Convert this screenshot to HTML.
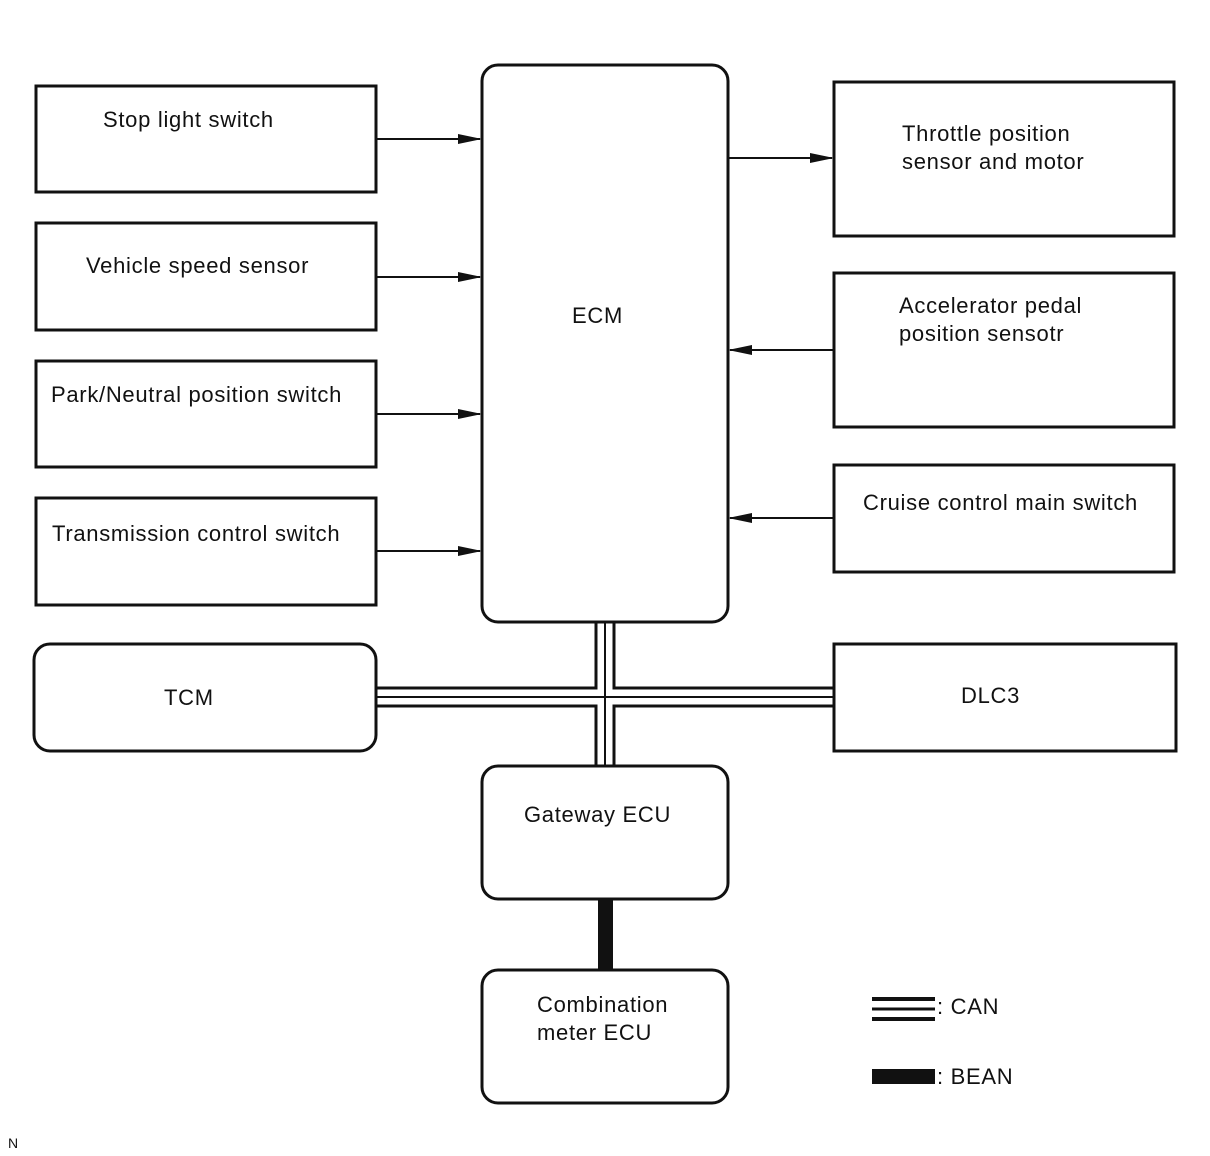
<!DOCTYPE html>
<html><head><style>body{margin:0;background:#fff}svg{display:block}text{font-family:"Liberation Sans",sans-serif;font-size:22px;letter-spacing:0.7px;fill:#111}</style></head><body>
<svg width="1210" height="1156" viewBox="0 0 1210 1156">
<defs><marker id="a" markerWidth="24" markerHeight="12" refX="22" refY="6" orient="auto" markerUnits="userSpaceOnUse"><path d="M0,1 L24,6 L0,11 z" fill="#111"/></marker></defs>
<g fill="#fff" stroke="#111" stroke-width="3">
<rect x="36" y="86" width="340" height="106"/>
<rect x="36" y="223" width="340" height="107"/>
<rect x="36" y="361" width="340" height="106"/>
<rect x="36" y="498" width="340" height="107"/>
<rect x="482" y="65" width="246" height="557" rx="16"/>
<rect x="834" y="82" width="340" height="154"/>
<rect x="834" y="273" width="340" height="154"/>
<rect x="834" y="465" width="340" height="107"/>
<rect x="34" y="644" width="342" height="107" rx="16"/>
<rect x="834" y="644" width="342" height="107"/>
<rect x="482" y="766" width="246" height="133" rx="16"/>
<rect x="482" y="970" width="246" height="133" rx="16"/>
</g>
<g stroke="#111" stroke-width="2" marker-end="url(#a)">
<line x1="376" y1="139" x2="480" y2="139"/>
<line x1="376" y1="277" x2="480" y2="277"/>
<line x1="376" y1="414" x2="480" y2="414"/>
<line x1="376" y1="551" x2="480" y2="551"/>
<line x1="728" y1="158" x2="832" y2="158"/>
<line x1="834" y1="350" x2="730" y2="350"/>
<line x1="834" y1="518" x2="730" y2="518"/>
</g>
<g stroke="#111" stroke-width="3" fill="none">
<path d="M596,622 V688 H376 M614,622 V688 H834 M596,767 V706 H376 M614,767 V706 H834"/>
<line x1="605" y1="622" x2="605" y2="767" stroke-width="2"/>
<line x1="376" y1="697" x2="834" y2="697" stroke-width="2"/>
<rect x="598" y="900" width="15" height="70" fill="#111" stroke="none"/>
<path d="M872,999 H935 M872,1019 H935" stroke-width="4"/>
<line x1="872" y1="1009" x2="935" y2="1009" stroke-width="3"/>
<rect x="872" y="1069" width="63" height="15" fill="#111" stroke="none"/>
</g>
<text x="103" y="127">Stop light switch</text>
<text x="86" y="273">Vehicle speed sensor</text>
<text x="51" y="402">Park/Neutral position switch</text>
<text x="52" y="541">Transmission control switch</text>
<text x="572" y="323">ECM</text>
<text x="902" y="141">Throttle position</text>
<text x="902" y="169">sensor and motor</text>
<text x="899" y="313">Accelerator pedal</text>
<text x="899" y="341">position sensotr</text>
<text x="863" y="510">Cruise control main switch</text>
<text x="164" y="705">TCM</text>
<text x="961" y="703">DLC3</text>
<text x="524" y="822">Gateway ECU</text>
<text x="537" y="1012">Combination</text>
<text x="537" y="1040">meter ECU</text>
<text x="937" y="1014">: CAN</text>
<text x="937" y="1084">: BEAN</text>
<text x="8" y="1148" style="font-size:14px;letter-spacing:0">N</text>
</svg>
</body></html>
